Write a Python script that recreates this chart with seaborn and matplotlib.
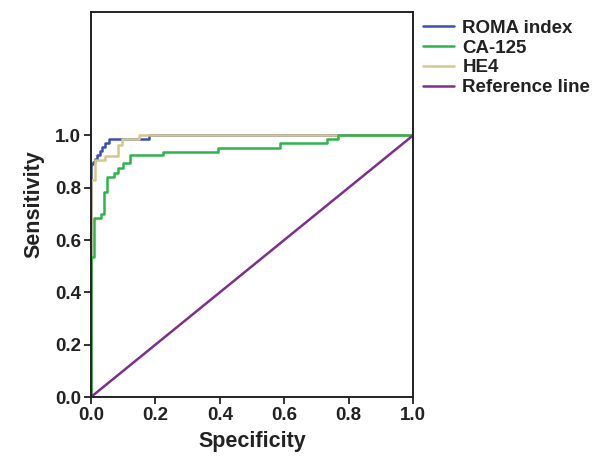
import matplotlib
matplotlib.use("Agg")
import matplotlib.pyplot as plt
import seaborn as sns
import pandas as pd

# ROC curves (x = specificity axis, y = sensitivity)
roma_x = [0.0, 0.0, 0.005, 0.012, 0.02, 0.028, 0.035, 0.045, 0.057, 0.18, 1.0]
roma_y = [0.0, 0.89, 0.90, 0.91, 0.925, 0.94, 0.955, 0.97, 0.985, 1.0, 1.0]

ca125_x = [0.0, 0.0, 0.009, 0.03, 0.04, 0.05, 0.07, 0.085, 0.10, 0.12, 0.225, 0.395, 0.587, 0.732, 0.768, 1.0]
ca125_y = [0.0, 0.537, 0.686, 0.70, 0.785, 0.842, 0.858, 0.875, 0.894, 0.925, 0.938, 0.953, 0.970, 0.987, 1.0, 1.0]

he4_x = [0.0, 0.0, 0.012, 0.043, 0.085, 0.095, 0.15, 1.0]
he4_y = [0.0, 0.83, 0.906, 0.92, 0.964, 0.985, 1.0, 1.0]

ref_x = [0.0, 1.0]
ref_y = [0.0, 1.0]

names = ["ROMA index", "CA-125", "HE4", "Reference line"]
colors = ["#3b4fb4", "#2fb34b", "#d3c88c", "#7d2f8c"]

sns.set_style("white")
plt.rcParams['font.family'] = ['Liberation Sans', 'DejaVu Sans']

fig = plt.figure(figsize=(6.09, 4.61), dpi=100)
ax = fig.add_axes([0.1494, 0.1388, 0.5287, 0.8352])

curves = [(roma_x, roma_y), (ca125_x, ca125_y), (he4_x, he4_y)]
# blue at the bottom, then tan, green on top along the 1.0 line
order = [0, 2, 1]
for i in order:
    xs, ys = curves[i]
    df = pd.DataFrame({"x": xs, "y": ys})
    sns.lineplot(data=df, x="x", y="y", ax=ax, color=colors[i], lw=1.8,
                 estimator=None, sort=False, drawstyle="steps-post", label=names[i])
df = pd.DataFrame({"x": ref_x, "y": ref_y})
sns.lineplot(data=df, x="x", y="y", ax=ax, color=colors[3], lw=1.8,
             estimator=None, sort=False, label=names[3])

ax.set_xlim(0, 1.0)
ax.set_ylim(0, 1.472)
ax.set_xticks([0.0, 0.2, 0.4, 0.6, 0.8, 1.0])
ax.set_yticks([0.0, 0.2, 0.4, 0.6, 0.8, 1.0])
ax.set_xticklabels([f"{v:.1f}" for v in ax.get_xticks()], fontsize=13.5, fontweight="bold", color="#222222")
ax.set_yticklabels([f"{v:.1f}" for v in ax.get_yticks()], fontsize=13.5, fontweight="bold", color="#222222")
ax.tick_params(direction="out", length=5, width=1.3, color="#222222", pad=2,
               bottom=True, left=True)
for s in ax.spines.values():
    s.set_color("#222222")
    s.set_linewidth(1.4)
ax.set_xlabel("Specificity", fontsize=15.5, fontweight="bold", color="#222222", labelpad=5)
ax.set_ylabel("Sensitivity", fontsize=15.5, fontweight="bold", color="#222222", labelpad=8)

h, l = ax.get_legend_handles_labels()
lookup = dict(zip(l, h))
leg = ax.legend([lookup[n] for n in names], names, loc="upper left",
                bbox_to_anchor=(1.008, 1.0), frameon=False, handlelength=1.65,
                handletextpad=0.45, labelspacing=0.15, borderaxespad=0,
                prop={"size": 13.5, "weight": "bold"})
for t in leg.get_texts():
    t.set_color("#222222")

fig.savefig("out.png", dpi=100)
